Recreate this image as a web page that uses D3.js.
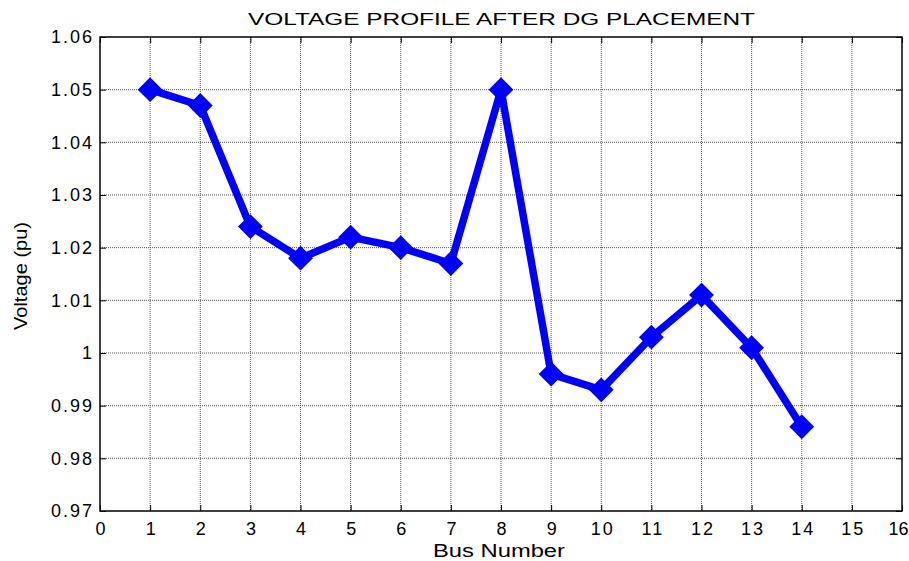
<!DOCTYPE html>
<html lang="en">
<head>
<meta charset="utf-8">
<script src="https://d3js.org/d3.v7.min.js"></script>
<style type="text/css">
body {
	margin: 0;
	background: white;
	font-family: "Liberation Sans", Arial, sans-serif;
}
.tick text {
	font-size: 18px;
	fill: #000;
	letter-spacing: 2px;
}
</style>
</head>
<body>
<script type="text/javascript">

// chart data
var busNumbers = [1, 2, 3, 4, 5, 6, 7, 8, 9, 10, 11, 12, 13, 14];
var voltages = [1.050, 1.047, 1.024, 1.018, 1.022, 1.020, 1.017, 1.050, 0.996, 0.993, 1.003, 1.011, 1.001, 0.986];
var xTicks = d3.range(0, 17);
var yTicks = [0.97, 0.98, 0.99, 1.00, 1.01, 1.02, 1.03, 1.04, 1.05, 1.06];
var yTickLabels = ["0.97", "0.98", "0.99", "1", "1.01", "1.02", "1.03", "1.04", "1.05", "1.06"];

var width = 909;
var height = 561;
var margin = {top: 37, right: 7, bottom: 50, left: 100};
var plotW = width - margin.left - margin.right;
var plotH = height - margin.top - margin.bottom;

var svg = d3.select("body")
	.append("svg")
	.attr("width", width)
	.attr("height", height);

var x = d3.scaleLinear().domain([0, 16]).range([0, plotW]);
var y = d3.scaleLinear().domain([0.97, 1.06]).range([plotH, 0]);

var g = svg.append("g")
	.attr("transform", "translate(" + margin.left + "," + margin.top + ")");

// grid
g.selectAll(".vgrid")
	.data(xTicks.slice(1, -1))
	.enter()
	.append("line")
	.attr("x1", function(d) { return x(d); })
	.attr("x2", function(d) { return x(d); })
	.attr("y1", 0)
	.attr("y2", plotH)
	.attr("stroke", "#555")
	.attr("stroke-dasharray", "1,1")
	.attr("stroke-width", 1);

g.selectAll(".hgrid")
	.data(yTicks.slice(1, -1))
	.enter()
	.append("line")
	.attr("x1", 0)
	.attr("x2", plotW)
	.attr("y1", function(d) { return y(d); })
	.attr("y2", function(d) { return y(d); })
	.attr("stroke", "#555")
	.attr("stroke-dasharray", "1,1")
	.attr("stroke-width", 1);

// axes (ticks inward)
var xAxis = d3.axisBottom(x).tickValues(xTicks).tickSize(-6).tickPadding(9).tickFormat(d3.format("d"));
var yAxis = d3.axisLeft(y).tickValues(yTicks).tickSize(-6).tickPadding(6)
	.tickFormat(function(d, i) { return yTickLabels[i]; });

var xg = g.append("g")
	.attr("transform", "translate(0," + plotH + ")")
	.call(xAxis)
	.call(function(s) { s.select(".domain").remove(); });
xg.selectAll(".tick text").attr("dx", "1").attr("dy", "0.85em");
// last label sits at the window edge; keep it inside
xg.selectAll(".tick").filter(function(d) { return d === 16; })
	.select("text").attr("text-anchor", "end").attr("dx", "6")
	.style("letter-spacing", "0px");

g.append("g")
	.call(yAxis)
	.call(function(s) { s.select(".domain").remove(); });

g.append("g")
	.call(d3.axisTop(x).tickValues(xTicks).tickSize(-6).tickFormat(""))
	.call(function(s) { s.select(".domain").remove(); });

g.append("g")
	.attr("transform", "translate(" + plotW + ",0)")
	.call(d3.axisRight(y).tickValues(yTicks).tickSize(-6).tickFormat(""))
	.call(function(s) { s.select(".domain").remove(); });

g.selectAll(".tick line").attr("stroke", "#000");
g.selectAll(".tick text").style("font-family", "'Liberation Sans', Arial, sans-serif");

// frame
g.append("rect")
	.attr("width", plotW)
	.attr("height", plotH)
	.attr("fill", "none")
	.attr("stroke", "#000")
	.attr("stroke-width", 1.5);

// line
var line = d3.line()
	.x(function(d, i) { return x(busNumbers[i]); })
	.y(function(d) { return y(d); });

g.append("path")
	.datum(voltages)
	.attr("d", line)
	.attr("fill", "none")
	.attr("stroke", "#0000ff")
	.attr("stroke-width", 7.5)
	.attr("stroke-linejoin", "miter");

// diamond markers
g.selectAll(".marker")
	.data(voltages)
	.enter()
	.append("path")
	.attr("d", "M0,-11L11,0L0,11L-11,0Z")
	.attr("transform", function(d, i) { return "translate(" + x(busNumbers[i]) + "," + y(d) + ")"; })
	.attr("fill", "#0000ff")
	.attr("stroke", "#0000ff")
	.attr("stroke-width", 2);

// title and labels
svg.append("text")
	.attr("x", 248)
	.attr("y", 25)
	.attr("textLength", 507)
	.attr("lengthAdjust", "spacingAndGlyphs")
	.style("font-size", "17px")
	.text("VOLTAGE PROFILE AFTER DG PLACEMENT");

svg.append("text")
	.attr("x", 433)
	.attr("y", 557)
	.attr("textLength", 132)
	.attr("lengthAdjust", "spacingAndGlyphs")
	.style("font-size", "17.5px")
	.text("Bus Number");

svg.append("text")
	.attr("transform", "translate(27,330) rotate(-90)")
	.attr("textLength", 108)
	.attr("lengthAdjust", "spacingAndGlyphs")
	.style("font-size", "18px")
	.text("Voltage (pu)");

</script>
</body>
</html>
